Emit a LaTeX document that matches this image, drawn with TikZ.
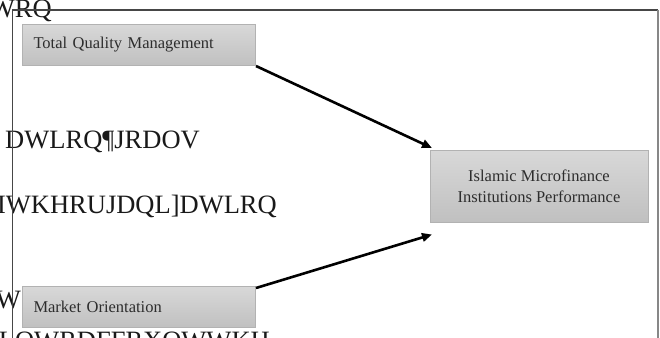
\documentclass[tikz,border=0pt]{standalone}
\usepackage{fontspec}
\setmainfont{Liberation Serif}
\usetikzlibrary{arrows.meta}
\definecolor{boxtop}{RGB}{216,216,216}
\definecolor{boxbot}{RGB}{192,192,192}
\definecolor{boxline}{RGB}{178,178,178}
\definecolor{txt}{RGB}{45,45,45}
\definecolor{garble}{RGB}{25,25,25}
\definecolor{frameline}{RGB}{70,70,70}
\definecolor{frameright}{RGB}{135,135,135}
\tikzset{
  varbox/.style={draw=boxline, line width=1pt, top color=boxtop, bottom color=boxbot,
    text=txt, font=\fontsize{16.5}{21}\selectfont, inner ysep=0pt},
  leftbox/.style={varbox, anchor=north west, text width=211pt, inner xsep=11pt,
    align=left, minimum height=41pt},
  garbled/.style={anchor=base east, text=garble, inner sep=0pt,
    font=\fontsize{26.5}{30}\selectfont},
  link/.style={line width=2.6pt, -{Triangle[length=10pt,width=8.5pt]}, black},
}
\begin{document}
\begin{tikzpicture}[x=1pt,y=-1pt]
\useasboundingbox (0,0) rectangle (660,337);
\begin{scope}
\clip (0,0) rectangle (660,337);
% stray garbled text lines
\node[garbled] (g1) at (52,18) {WRQ};
\node[garbled] (g2) at (200,148) {DWLRQ¶JRDOV};
\node[garbled] (g3) at (277,213) {RIWKHRUJDQL]DWLRQ};
\node[garbled] (g4) at (21,308) {W};
\node[garbled] (g5) at (270,349.5) {VLQWRDFFRXQWWKH};
% frame
\coordinate (fbl) at (12.5,340);
\coordinate (ftl) at (12.5,10);
\coordinate (ftr) at (657.5,10);
\coordinate (fbr) at (657.5,340);
\draw[frameline, line width=1.2pt] (fbl) -- (ftl) -- (ftr);
\draw[frameright, line width=2pt] (ftr) -- (fbr);
% boxes
\node[leftbox] (tqm) at (22,24) {Total Quality Management};
\node[leftbox] (mo) at (22,286) {Market Orientation};
\node[varbox, minimum width=218pt, minimum height=72pt, align=center] (imfi) at (539,186)
  {Islamic Microfinance\\Institutions Performance};
% arrows
\coordinate (t1) at (432,148);
\coordinate (t2) at (432,234.5);
\draw[link] (tqm.south east) -- (t1);
\draw[link] ([yshift=-2pt]mo.north east) -- (t2);
\end{scope}
\end{tikzpicture}
\end{document}
